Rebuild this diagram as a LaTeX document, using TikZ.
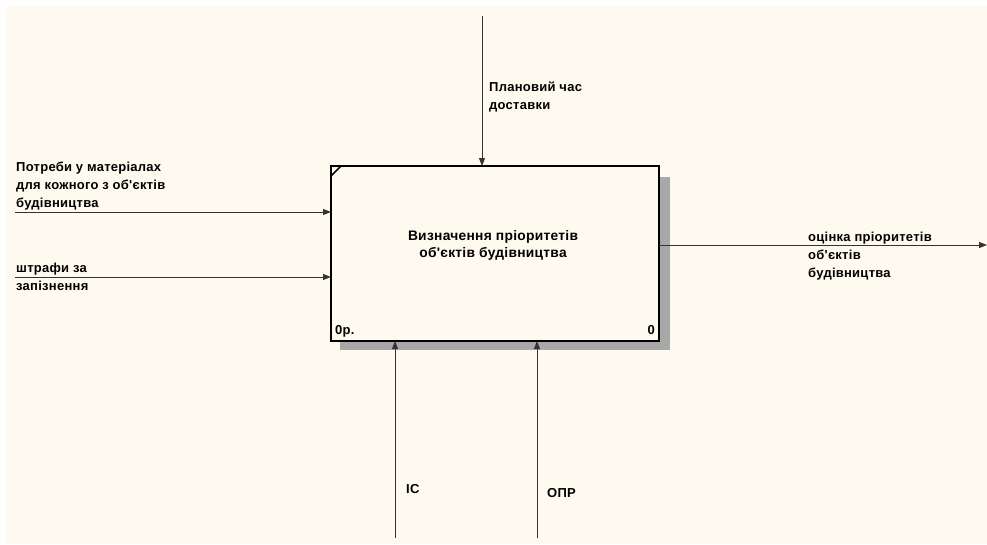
\documentclass[tikz,border=0pt]{standalone}
\usepackage{fontspec}
\setmainfont{Liberation Sans}[LetterSpace=2, Ligatures=TeXOff]
\usetikzlibrary{arrows.meta}
\definecolor{cream}{HTML}{FFFAF0}
\definecolor{shadowgray}{HTML}{A8A8A8}
\begin{document}
\begin{tikzpicture}[x=1pt,y=-1pt,
 lbl/.style={anchor=base west, inner sep=0pt, align=left, font=\bfseries\fontsize{13}{18}\selectfont},
 ctr/.style={anchor=base, inner sep=0pt, align=center, font=\bfseries\fontsize{13.8}{17}\selectfont},
 arr/.style={draw=black!80, line width=0.9pt, -{Triangle[length=8pt,width=6pt]}},
 ]
\useasboundingbox (0,0) rectangle (987,544);
\fill[white] (0,0) rectangle (987,544);
\fill[cream] (6,6) rectangle (987,544);
\fill[shadowgray] (340,177) rectangle (670,350);
\node[draw, line width=2pt, fill=cream, minimum width=328pt, minimum height=175pt, inner sep=0pt, outer sep=0pt] (box) at (495,253.5) {};
\draw[line width=1.5pt] ([yshift=-10pt]box.north west) -- ([xshift=10pt]box.north west);
% box texts
\node[ctr] (t1) at (493,240) {Визначення пріоритетів};
\node[ctr] (t2) at (493,257) {об'єктів будівництва};
\node[lbl] (n0) at (335,334) {0р.};
\node[anchor=base east, inner sep=0pt, font=\bfseries\fontsize{13}{18}\selectfont] (n1) at (655,334) {0};
% control
\coordinate (c1) at (482,16);
\draw[arr] (c1) -- (c1 |- box.north);
\node[lbl] (lc1) at (489,109) {Плановий час\\доставки};
% inputs
\coordinate (i1) at (15,212);
\coordinate (i2) at (15,277);
\draw[arr] (i1) -- (i1 -| box.west);
\draw[arr] (i2) -- (i2 -| box.west);
\node[lbl] (li1) at (16,207) {Потреби у матеріалах\\для кожного з об'єктів\\будівництва};
\node[lbl] (li2a) at (16,272) {штрафи за};
\node[lbl] (li2b) at (16,290) {запізнення};
% output
\coordinate (o1) at (987,245);
\draw[arr] (o1 -| box.east) -- (o1);
\node[lbl] (lo1) at (808,277) {оцінка пріоритетів\\об'єктів\\будівництва};
% mechanisms
\coordinate (m1) at (395,538);
\coordinate (m2) at (537,538);
\draw[arr] (m1) -- (m1 |- box.south);
\draw[arr] (m2) -- (m2 |- box.south);
\node[lbl] (lm1) at (406,493) {ІС};
\node[lbl] (lm2) at (547,497) {ОПР};
\end{tikzpicture}
\end{document}
